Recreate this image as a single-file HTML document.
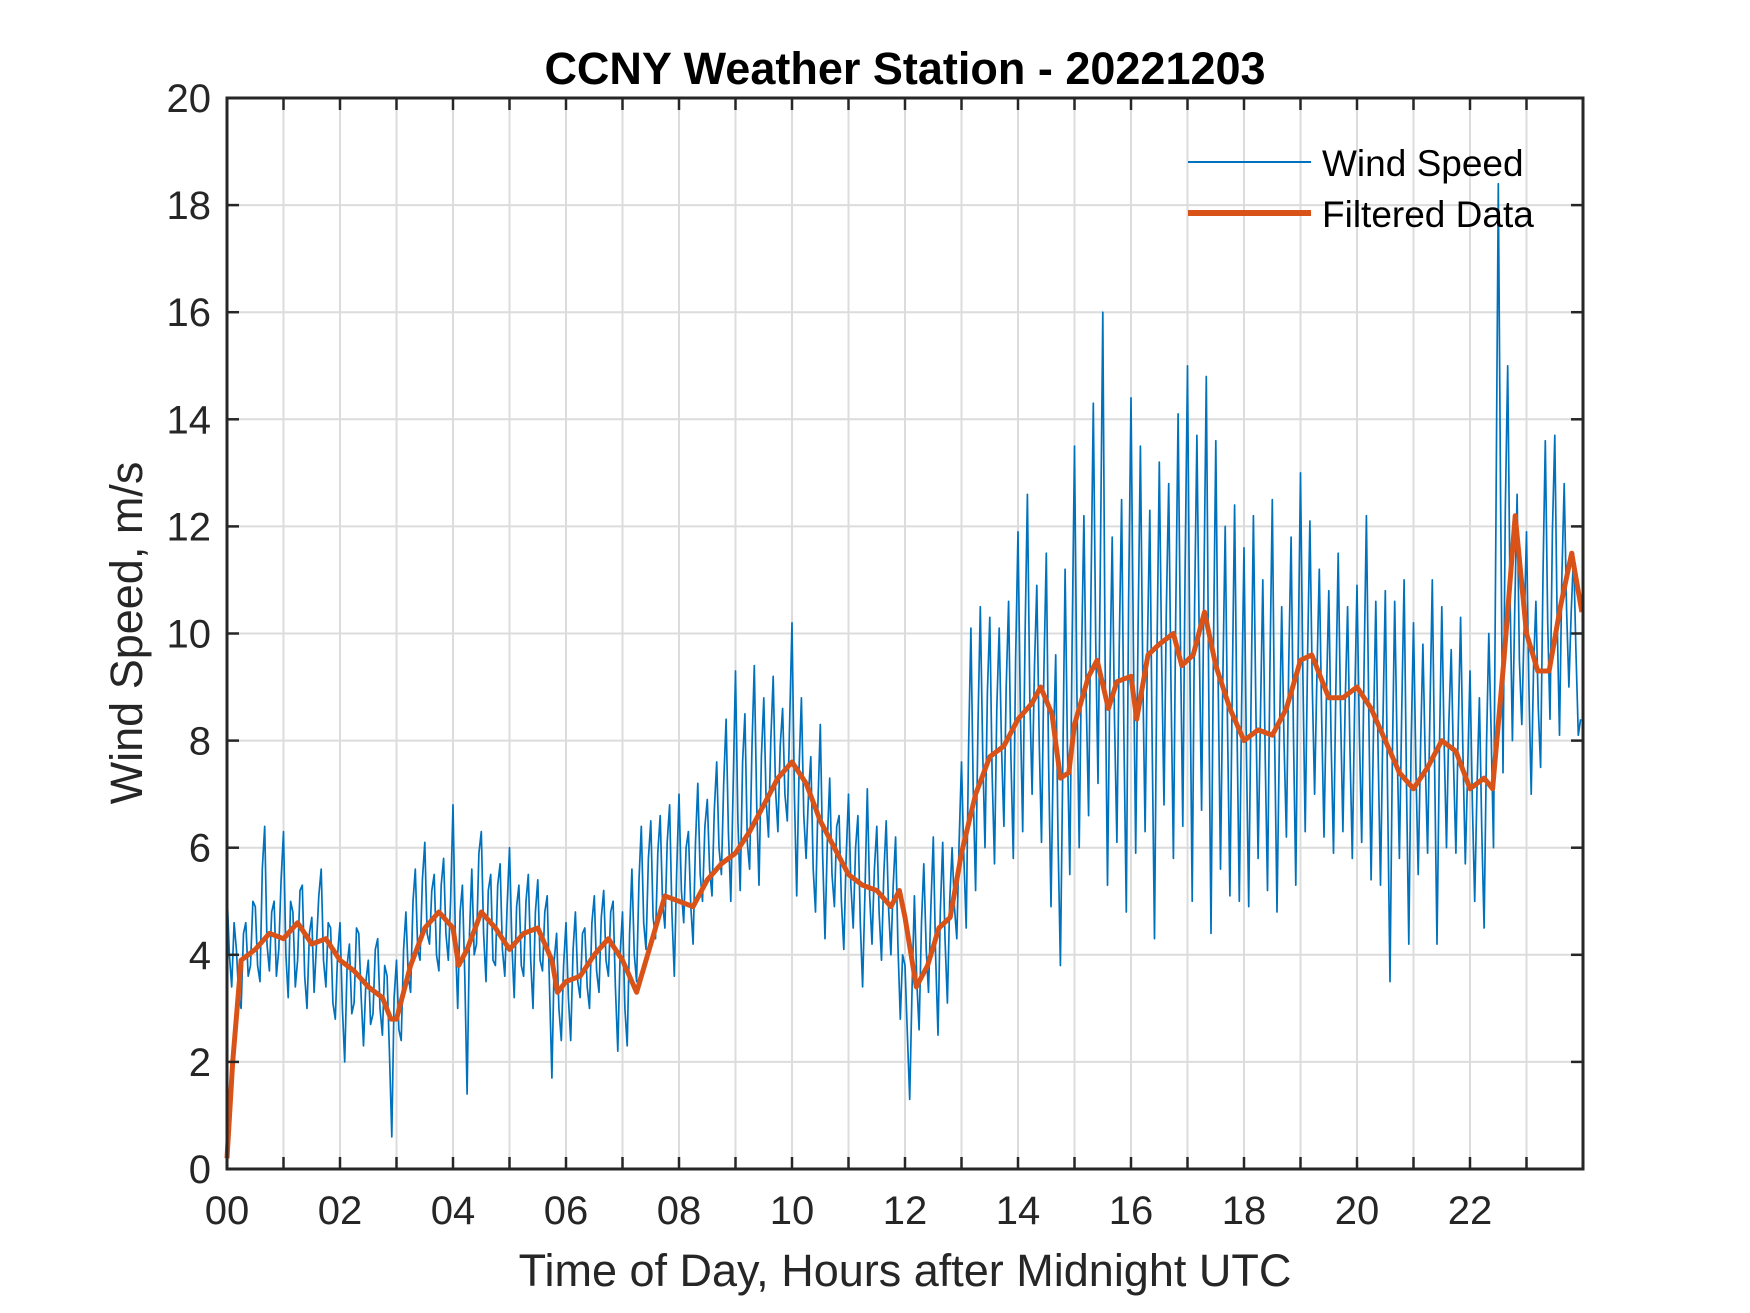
<!DOCTYPE html>
<html><head><meta charset="utf-8"><style>
html,body{margin:0;padding:0;background:#fff;}
svg{display:block;font-family:"Liberation Sans",sans-serif;}
</style></head><body>
<svg id="chart" width="1750" height="1313" viewBox="0 0 1750 1313">
<rect x="0" y="0" width="1750" height="1313" fill="#fff"/>
<g id="grid"></g>
<g id="series"></g>
<g id="axes"></g>
<text x="905" y="84" text-anchor="middle" font-size="45" font-weight="bold" fill="#000">CCNY Weather Station - 20221203</text>
<text x="905" y="1286" text-anchor="middle" font-size="45" fill="#262626">Time of Day, Hours after Midnight UTC</text>
<text transform="translate(142,633) rotate(-90)" text-anchor="middle" font-size="45" fill="#262626">Wind Speed, m/s</text>
<g>
<line x1="1188" y1="162" x2="1311" y2="162" stroke="#0072BD" stroke-width="2"/>
<text x="1322" y="176" font-size="37" fill="#000">Wind Speed</text>
<line x1="1188" y1="213" x2="1311" y2="213" stroke="#D95319" stroke-width="6"/>
<text x="1322" y="227" font-size="37" fill="#000">Filtered Data</text>
</g>
</svg>
<script>
const xTickLabels = ["00","02","04","06","08","10","12","14","16","18","20","22"];
const yTickLabels = ["0","2","4","6","8","10","12","14","16","18","20"];
// raw wind speed, one value every 2.5 minutes (24 per hour)
const windSpeed = [
5.2,4.0,3.4,4.6,4.1,3.2,3.0,4.4,4.6,3.6,3.8,5.0,4.9,3.8,3.5,5.6,6.4,4.2,3.7,4.8,5.0,3.6,4.1,5.4,
6.3,4.0,3.2,5.0,4.8,3.4,3.9,5.2,5.3,3.6,3.0,4.4,4.7,3.3,4.2,5.1,5.6,3.9,3.4,4.6,4.5,3.1,2.8,4.0,
4.6,3.0,2.0,3.8,4.2,2.9,3.1,4.5,4.4,3.2,2.3,3.5,3.9,2.7,2.9,4.1,4.3,3.0,2.5,3.8,3.6,2.2,0.6,3.2,
3.9,2.6,2.4,4.1,4.8,3.6,3.3,5.0,5.6,4.1,3.9,5.4,6.1,4.4,4.2,5.2,5.5,4.0,3.7,5.3,5.8,4.4,3.9,5.0,
6.8,4.3,3.0,4.8,5.3,3.6,1.4,4.4,5.6,4.0,4.2,5.9,6.3,4.4,3.5,5.2,5.5,3.9,3.8,5.3,5.7,4.1,3.6,4.9,
6.0,4.2,3.2,4.9,5.3,3.8,3.6,5.0,5.5,3.9,3.0,4.8,5.4,3.9,3.7,4.8,5.1,3.4,1.7,3.9,4.4,3.0,2.4,3.8,
4.6,3.2,2.4,4.1,4.8,3.5,3.2,4.4,4.5,3.4,3.0,4.6,5.1,3.7,3.3,4.7,5.2,3.9,3.6,4.8,5.0,3.4,2.2,4.0,
4.8,3.0,2.3,4.4,5.6,4.0,3.5,5.4,6.4,4.6,4.1,5.8,6.5,4.7,4.3,5.9,6.6,5.0,4.5,6.1,6.8,4.8,3.6,5.5,
7.0,5.2,4.6,6.0,6.3,4.9,4.2,6.1,7.2,5.5,5.0,6.4,6.9,5.6,5.1,6.7,7.6,6.0,5.5,7.2,8.4,6.3,5.0,7.1,
9.3,6.5,5.2,7.6,8.5,6.1,5.6,7.9,9.4,6.8,5.3,7.7,8.8,6.9,6.2,8.0,9.2,7.1,6.3,7.9,8.6,7.0,6.5,8.3,
10.2,7.0,5.1,7.5,8.8,6.6,5.8,7.0,7.7,5.6,4.8,6.8,8.3,5.9,4.3,6.1,7.3,5.5,4.9,6.4,6.6,5.0,4.1,5.8,
7.0,5.3,4.5,6.0,6.6,4.6,3.4,5.2,7.1,5.1,4.2,5.6,6.4,4.8,3.9,5.5,6.5,4.9,4.0,5.3,6.2,4.2,2.8,4.0,
3.8,2.5,1.3,3.4,5.1,3.5,2.6,4.6,5.7,4.1,3.3,4.9,6.2,4.0,2.5,4.8,6.1,4.3,3.1,5.0,6.0,4.9,4.3,6.1,
7.6,5.8,4.5,7.9,10.1,7.0,5.2,8.3,10.5,7.8,6.0,8.9,10.3,7.4,5.7,8.6,10.1,7.9,6.4,9.0,10.6,7.7,5.8,9.5,
11.9,8.5,6.3,10.0,12.6,8.8,7.0,9.4,10.9,8.0,6.1,9.3,11.5,7.6,4.9,7.8,9.6,6.2,3.8,7.4,11.2,7.9,5.5,9.8,
13.5,8.9,6.0,9.6,12.2,8.7,6.6,10.8,14.3,9.9,7.2,11.4,16.0,9.5,5.3,9.0,11.8,8.4,6.1,9.7,12.5,8.1,4.8,10.6,
14.4,9.7,5.9,10.1,13.5,9.2,6.3,9.8,12.3,7.9,4.3,9.5,13.2,9.6,6.8,10.4,12.8,9.0,5.8,10.3,14.1,9.9,6.4,11.2,
15.0,9.4,5.0,10.5,13.7,9.8,6.7,11.0,14.8,9.0,4.4,9.6,13.6,9.2,5.6,9.1,12.0,8.3,5.1,8.9,12.4,8.4,5.0,8.6,
11.6,7.8,4.9,8.8,12.2,8.7,5.8,8.5,11.0,7.7,5.2,9.3,12.5,8.1,4.8,7.9,10.5,8.0,6.2,9.4,11.8,8.2,5.3,9.5,
13.0,9.2,6.3,9.6,12.1,9.0,7.0,9.3,11.2,8.4,6.2,8.8,10.8,8.0,5.9,8.9,11.5,8.6,6.3,8.7,10.5,7.9,5.8,8.6,
10.9,8.1,6.1,9.4,12.2,8.5,5.4,8.2,10.6,7.7,5.3,8.3,10.8,7.0,3.5,7.6,10.6,8.0,5.8,8.5,11.0,7.3,4.2,7.9,
10.2,7.5,5.5,7.9,9.8,7.6,5.9,8.6,11.0,7.4,4.2,7.8,10.5,8.0,6.0,8.3,9.7,7.6,5.9,8.2,10.3,7.8,5.7,7.4,
9.3,6.8,5.0,7.2,8.8,6.3,4.5,7.9,10.0,8.1,6.0,12.0,18.4,12.5,7.4,12.3,15.0,10.8,8.0,10.4,12.6,9.5,8.3,10.1,
11.9,9.0,7.0,9.4,10.6,8.6,7.5,11.1,13.6,10.2,8.4,11.9,13.7,10.3,8.1,11.0,12.8,10.5,9.0,10.4,11.5,9.7,8.1,8.4
];
const filtHours = [0,0.1,0.25,0.5,0.75,1,1.25,1.5,1.75,2,2.25,2.5,2.75,2.9,3,3.25,3.5,3.75,4,4.1,4.25,4.5,4.75,5,5.25,5.5,5.75,5.85,6,6.25,6.5,6.75,7,7.25,7.5,7.75,8,8.25,8.5,8.75,9,9.25,9.5,9.75,10,10.25,10.5,10.75,11,11.25,11.5,11.75,11.9,12,12.2,12.4,12.6,12.8,13,13.25,13.5,13.75,14,14.25,14.4,14.6,14.75,14.9,15,15.25,15.4,15.6,15.75,16,16.1,16.3,16.5,16.75,16.9,17.1,17.3,17.5,17.75,18,18.25,18.5,18.75,19,19.2,19.5,19.75,20,20.25,20.5,20.75,21,21.25,21.5,21.75,22,22.25,22.4,22.6,22.8,23,23.2,23.4,23.6,23.8,23.98];
const filtValues = [0.2,2,3.9,4.1,4.4,4.3,4.6,4.2,4.3,3.9,3.7,3.4,3.2,2.8,2.8,3.8,4.5,4.8,4.5,3.8,4.1,4.8,4.5,4.1,4.4,4.5,3.9,3.3,3.5,3.6,4.0,4.3,3.9,3.3,4.2,5.1,5.0,4.9,5.4,5.7,5.9,6.3,6.8,7.3,7.6,7.2,6.5,6.0,5.5,5.3,5.2,4.9,5.2,4.7,3.4,3.8,4.5,4.7,5.9,7.0,7.7,7.9,8.4,8.7,9.0,8.5,7.3,7.4,8.3,9.2,9.5,8.6,9.1,9.2,8.4,9.6,9.8,10.0,9.4,9.6,10.4,9.4,8.6,8.0,8.2,8.1,8.6,9.5,9.6,8.8,8.8,9.0,8.6,8.0,7.4,7.1,7.5,8.0,7.8,7.1,7.3,7.1,9.5,12.2,10.0,9.3,9.3,10.5,11.5,10.4];

const NS="http://www.w3.org/2000/svg";
const L=227,R=1583,T=98,B=1169;
const xs=h=>L+(h/24)*(R-L);
const ys=v=>B-(v/20)*(B-T);
function mk(tag,attrs,parent){const e=document.createElementNS(NS,tag);for(const k in attrs)e.setAttribute(k,attrs[k]);parent.appendChild(e);return e;}
const grid=document.getElementById('grid'),axes=document.getElementById('axes'),series=document.getElementById('series');
for(let h=1;h<24;h++){
  const g=mk('line',{x1:xs(h),x2:xs(h),y1:T,y2:B,stroke:'#dcdcdc','stroke-width':2},grid);
  
  
  const t1=mk('line',{x1:xs(h),x2:xs(h),y1:T,y2:T+12,stroke:'#262626','stroke-width':2.5},axes);
  
  
  const t2=mk('line',{x1:xs(h),x2:xs(h),y1:B,y2:B-12,stroke:'#262626','stroke-width':2.5},axes);
  
  
}
xTickLabels.forEach((lab,i)=>{
  const t=mk('text',{x:xs(i*2),y:B+55,'text-anchor':'middle','font-size':40,fill:'#262626'},axes);
  t.textContent=lab;
  
  
});
yTickLabels.forEach((lab,i)=>{
  const v=+lab;
  if(v>0&&v<20){
    const g=mk('line',{x1:L,x2:R,y1:ys(v),y2:ys(v),stroke:'#dcdcdc','stroke-width':2},grid);
    
    
  }
  const a=mk('line',{x1:L,x2:L+12,y1:ys(v),y2:ys(v),stroke:'#262626','stroke-width':2.5},axes);
  
  
  const b=mk('line',{x1:R,x2:R-12,y1:ys(v),y2:ys(v),stroke:'#262626','stroke-width':2.5},axes);
  
  
  const t=mk('text',{x:L-16,y:ys(v)+14,'text-anchor':'end','font-size':40,fill:'#262626'},axes);
  t.textContent=lab;
  
  
});
const box=mk('rect',{x:L,y:T,width:R-L,height:B-T,fill:'none',stroke:'#262626','stroke-width':3},axes);


let d='';
windSpeed.forEach((v,i)=>{d+=(i?'L':'M')+xs(i/24).toFixed(1)+','+ys(v).toFixed(1);});
const w=mk('path',{d:d,fill:'none',stroke:'#0072BD','stroke-width':1.7,'stroke-linejoin':'round'},series);


let d2='';
filtHours.forEach((h,i)=>{d2+=(i?'L':'M')+xs(h).toFixed(1)+','+ys(filtValues[i]).toFixed(1);});
const f=mk('path',{d:d2,fill:'none',stroke:'#D95319','stroke-width':5,'stroke-linejoin':'round'},series);


</script>
</body></html>
